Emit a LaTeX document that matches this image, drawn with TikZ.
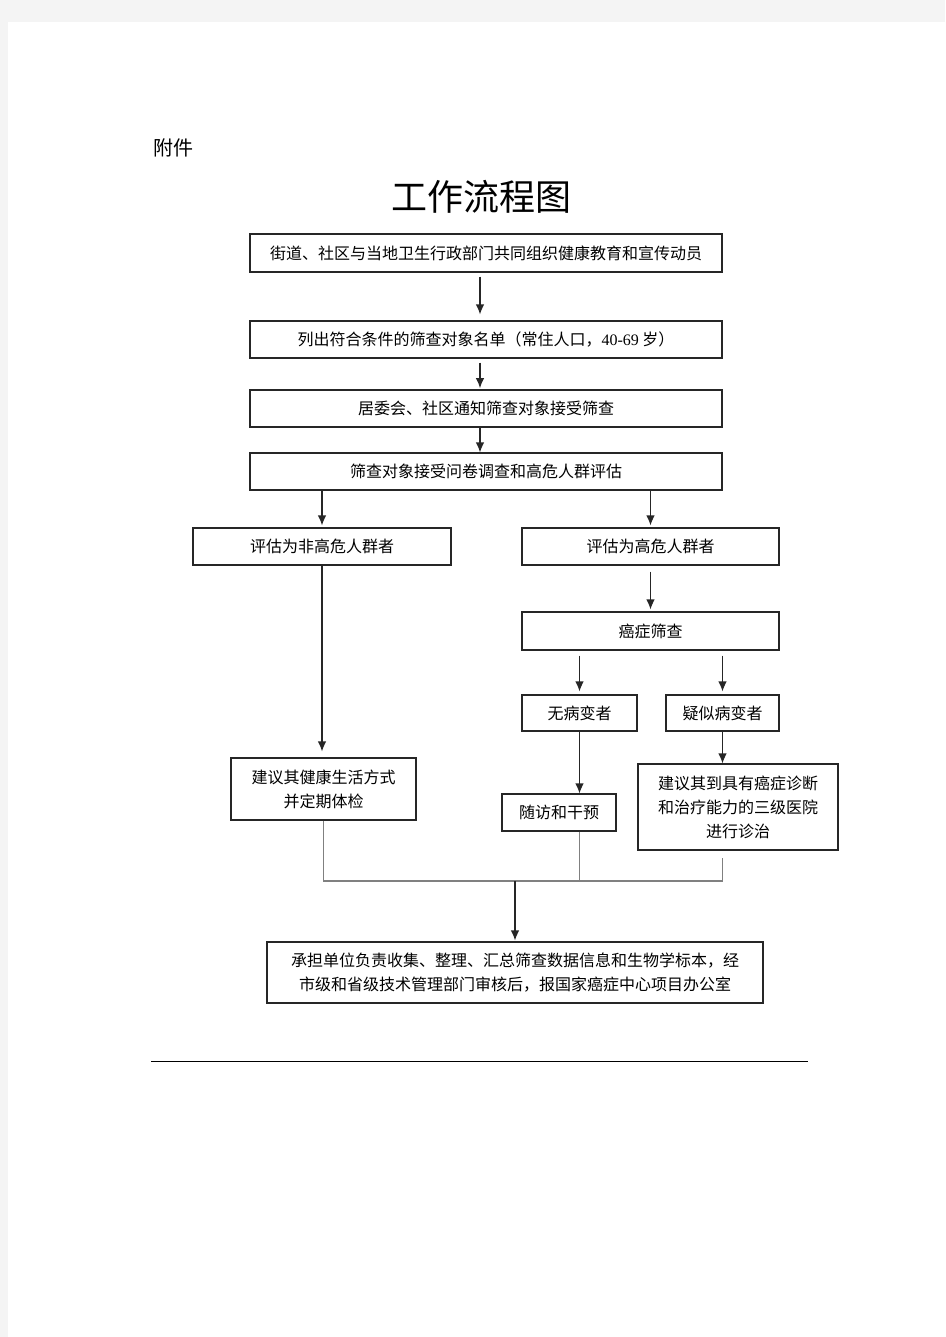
\documentclass[tikz,border=0pt]{standalone}
\usepackage{fontspec}
\setmainfont{Liberation Serif}
\newfontfamily\cjk{Noto Sans CJK SC}
\usepackage{xcolor}
\usepackage{tikz}
\usetikzlibrary{positioning,arrows,arrows.meta,calc}
\definecolor{pagebg}{RGB}{244,244,244}
\definecolor{joingray}{RGB}{128,128,128}
\tikzset{
  box/.style={draw=black!85,line width=1.1pt,inner sep=0pt,align=center,
    font=\cjk\fontsize{16}{24}\selectfont},
  arr/.style={-{Latex[length=10pt,width=8.5pt]},line width=1.2pt,black!85},
  merge/.style={line width=1.2pt,joingray}
}

\begin{document}
\begin{tikzpicture}[x=1pt,y=-1pt]
\useasboundingbox (0,0) rectangle (945,1337);
\fill[pagebg] (0,0) rectangle (945,1337);
\fill[white] (8,22) rectangle (945,1337);
\node[font=\cjk\fontsize{20}{24}\selectfont] (fujian) at (173,148) {附件};
\node[font=\cjk\fontsize{36}{40}\selectfont] (title) at (481,197) {工作流程图};
\node[box,minimum width=472pt,minimum height=38pt] (intro) at (486,253)
  {街道、社区与当地卫生行政部门共同组织健康教育和宣传动员};
\node[box,minimum width=472pt,minimum height=37pt] (listing) at (486,339.5)
  {列出符合条件的筛查对象名单（常住人口，{\rmfamily 40-69} 岁）};
\node[box,line width=1.8pt,minimum width=472pt,minimum height=37pt] (notify) at (486,408.5)
  {居委会、社区通知筛查对象接受筛查};
\node[box,minimum width=472pt,minimum height=37pt] (survey) at (486,471.5)
  {筛查对象接受问卷调查和高危人群评估};
\node[box,minimum width=258pt,minimum height=37pt] (lowrisk) at (322,546.5)
  {评估为非高危人群者};
\node[box,minimum width=257pt,minimum height=37pt] (highrisk) at (650.5,546.5)
  {评估为高危人群者};
\node[box,minimum width=257pt,minimum height=38pt] (screen) at (650.5,631)
  {癌症筛查};
\node[box,minimum width=115pt,minimum height=36pt] (nolesion) at (579.5,713)
  {无病变者};
\node[box,minimum width=113pt,minimum height=36pt] (suspect) at (722.5,713)
  {疑似病变者};
\node[box,minimum width=185pt,minimum height=62pt] (advice) at (323.5,789)
  {建议其健康生活方式\\并定期体检};
\node[box,minimum width=114pt,minimum height=37pt] (followup) at (559,812.5)
  {随访和干预};
\node[box,minimum width=200pt,minimum height=86pt] (referral) at (738,807)
  {建议其到具有癌症诊断\\和治疗能力的三级医院\\进行诊治};
\node[box,minimum width=496pt,minimum height=61pt] (report) at (515,972.5)
  {承担单位负责收集、整理、汇总筛查数据信息和生物学标本，经\\市级和省级技术管理部门审核后，报国家癌症中心项目办公室};
\coordinate (join) at (515,881);
\draw[arr,shorten <=4pt,shorten >=6pt] ([xshift=-6pt]intro.south) -- ([xshift=-6pt]listing.north);
\draw[arr,shorten <=4pt,shorten >=1pt] ([xshift=-6pt]listing.south) -- ([xshift=-6pt]notify.north);
\draw[arr] ([xshift=-6pt]notify.south) -- ([xshift=-6pt]survey.north);
\draw[arr,shorten >=2pt] (survey.south -| lowrisk) -- (lowrisk.north);
\draw[arr,shorten >=2pt] (survey.south -| highrisk) -- (highrisk.north);
\draw[arr,shorten >=6pt] (lowrisk.south) -- (advice.north -| lowrisk);
\draw[arr,shorten <=6pt,shorten >=2pt] (highrisk.south) -- (screen.north);
\draw[arr,shorten <=5pt,shorten >=3pt] (screen.south -| nolesion) -- (nolesion.north);
\draw[arr,shorten <=5pt,shorten >=3pt] (screen.south -| suspect) -- (suspect.north);
\draw[arr] (nolesion.south) -- (nolesion.south |- followup.north);
\draw[arr] (suspect.south) -- (suspect.south |- referral.north);
\draw[merge] (advice.south) -- (advice.south |- join) -- (join -| suspect)
  -- ([yshift=-7pt]referral.south -| suspect);
\draw[merge] (followup.south -| nolesion) -- (join -| nolesion);
\draw[arr,shorten >=1pt] (join) -- (report.north);
\draw[line width=1pt] (151,1061) -- (808,1061);
\end{tikzpicture}
\end{document}
